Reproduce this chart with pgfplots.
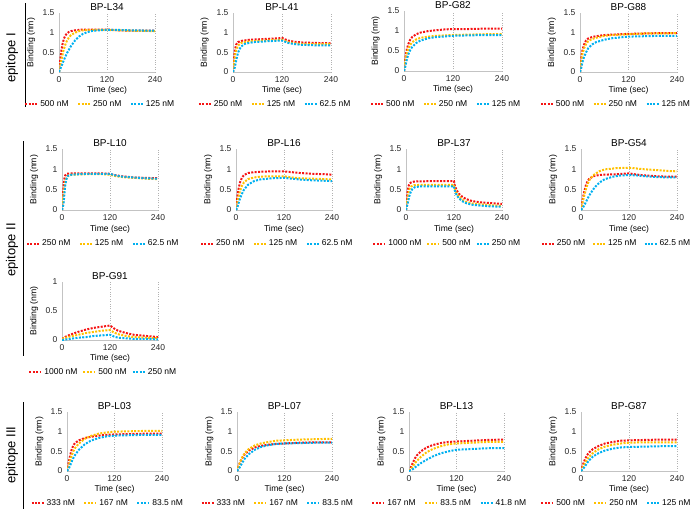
\documentclass[border=0pt]{standalone}
\usepackage{fontspec}
\setmainfont{Liberation Sans}
\usepackage{pgfplots}
\pgfplotsset{compat=1.18}
\definecolor{cred}{RGB}{245,20,20}
\definecolor{corg}{RGB}{255,192,0}
\definecolor{cblu}{RGB}{0,176,240}
\definecolor{axgray}{RGB}{195,195,195}
\pgfplotsset{
  sr/.style={color=cred, line width=2pt, dash pattern=on 2pt off 1.4pt, mark=none},
  so/.style={color=corg, line width=2pt, dash pattern=on 2pt off 1.4pt, mark=none},
  sb/.style={color=cblu, line width=2pt, dash pattern=on 2pt off 1.4pt, mark=none},
  every axis title/.style={at={(axis description cs:0.5,1)}, anchor=base, yshift=2.5pt, font=\fontsize{10}{11}\selectfont},
  panel/.style={
    scale only axis, width=96pt, height=59pt, anchor=south west,
    xmin=0, xmax=240, ymin=0, ymax=1.5,
    xtick={0,120,240}, ytick={0,0.5,1,1.5},
    axis x line*=bottom, axis y line*=left,
    axis line style={draw=axgray, line width=0.6pt, -},
    major tick length=0pt,
    xmajorgrids, grid style={black!30, dotted, line width=0.6pt},
    /pgf/number format/assume math mode=true,
    ticklabel style={font=\fontsize{8.5}{9}\selectfont, text=black!85},
    xticklabel style={yshift=-1pt},
    yticklabel style={xshift=-1pt},
    xlabel={Time (sec)}, ylabel={Binding (nm)},
    every axis x label/.style={at={(axis description cs:0.5,-0.31)}, anchor=center, font=\fontsize{8.5}{9}\selectfont},
    every axis y label/.style={at={(axis description cs:-0.29,0.5)}, anchor=center, rotate=90, font=\fontsize{8.7}{9}\selectfont},
    legend style={at={(axis description cs:0.43,-0.55)}, anchor=center, draw=none, fill=none,
      legend columns=3, font=\fontsize{8.5}{9}\selectfont, inner sep=0pt,
      /tikz/every even column/.append style={column sep=6.5pt}},
    legend image code/.code={\draw[#1] (0pt,0pt) -- (12pt,0pt);},
  },
  rightcol/.style={legend style={at={(axis description cs:0.37,-0.55)}}},
}
\begin{document}
\begin{tikzpicture}
\useasboundingbox (0,0) rectangle (696pt,-509pt);
% epitope labels
\draw[line width=1pt] (25pt,-3pt) -- (25pt,-107pt);
\node[rotate=90, font=\fontsize{13}{14}\selectfont] at (12pt,-58pt) {epitope I};
\draw[line width=1pt] (23pt,-141pt) -- (23pt,-356pt);
\node[rotate=90, font=\fontsize{13}{14}\selectfont] at (12pt,-250pt) {epitope II};
\draw[line width=1pt] (23pt,-402pt) -- (23pt,-509pt);
\node[rotate=90, font=\fontsize{13}{14}\selectfont] at (12pt,-455pt) {epitope III};

% ---------------- Row 1 ----------------
\begin{axis}[panel, at={(59pt,-72pt)}, title={BP-L34}]
\addplot[sr] coordinates {(0,0) (3,0.3) (6,0.55) (9,0.72) (12,0.84) (16,0.93) (20,0.98) (25,1.02) (30,1.04) (40,1.06) (60,1.08) (90,1.08) (120,1.08) (150,1.06) (180,1.05) (210,1.05) (240,1.05)};
\addplot[so] coordinates {(0,0) (4,0.2) (8,0.4) (12,0.58) (16,0.7) (20,0.8) (25,0.88) (30,0.94) (40,1.0) (50,1.04) (60,1.06) (80,1.07) (120,1.07) (150,1.06) (180,1.05) (240,1.04)};
\addplot[sb] coordinates {(0,0) (5,0.12) (10,0.25) (15,0.37) (20,0.48) (30,0.66) (40,0.8) (50,0.9) (60,0.97) (70,1.01) (80,1.04) (100,1.06) (120,1.07) (150,1.07) (180,1.06) (240,1.05)};
\legend{500 nM, 250 nM, 125 nM}
\end{axis}

\begin{axis}[panel, at={(233pt,-72pt)}, width=98pt, title={BP-L41}]
\addplot[sr] coordinates {(0,0) (2,0.3) (4,0.5) (6,0.62) (8,0.7) (12,0.76) (20,0.79) (40,0.82) (80,0.84) (115,0.86) (120,0.87) (125,0.84) (135,0.8) (150,0.77) (170,0.75) (200,0.74) (240,0.73)};
\addplot[so] coordinates {(0,0) (3,0.25) (6,0.48) (9,0.6) (13,0.68) (20,0.74) (40,0.78) (80,0.8) (120,0.82) (125,0.8) (135,0.76) (150,0.73) (170,0.71) (200,0.71) (240,0.71)};
\addplot[sb] coordinates {(0,0) (4,0.1) (8,0.3) (12,0.48) (16,0.58) (20,0.65) (30,0.72) (50,0.76) (80,0.78) (120,0.8) (125,0.78) (135,0.74) (150,0.71) (170,0.69) (200,0.68) (240,0.68)};
\legend{250 nM, 125 nM, 62.5 nM}
\end{axis}

\begin{axis}[panel, at={(404pt,-71pt)}, width=98pt, height=60pt, title={BP-G82}]
\addplot[sr] coordinates {(0,0) (3,0.3) (6,0.5) (10,0.66) (15,0.78) (20,0.85) (30,0.92) (40,0.96) (60,1.0) (80,1.02) (100,1.04) (120,1.05) (160,1.05) (200,1.06) (240,1.06)};
\addplot[so] coordinates {(0,0) (3,0.22) (6,0.4) (10,0.54) (15,0.65) (20,0.72) (30,0.79) (40,0.83) (60,0.86) (80,0.88) (120,0.9) (160,0.91) (200,0.92) (240,0.92)};
\addplot[sb] coordinates {(0,0) (3,0.1) (6,0.25) (10,0.4) (15,0.52) (20,0.6) (30,0.7) (40,0.76) (60,0.82) (80,0.85) (120,0.88) (160,0.89) (200,0.9) (240,0.9)};
\legend{500 nM, 250 nM, 125 nM}
\end{axis}

\begin{axis}[panel, rightcol, at={(580pt,-72pt)}, width=97pt, title={BP-G88}]
\addplot[sr] coordinates {(0,0) (3,0.35) (6,0.55) (10,0.7) (15,0.8) (20,0.85) (30,0.89) (40,0.91) (60,0.94) (80,0.95) (100,0.96) (120,0.97) (160,0.98) (200,0.99) (240,0.99)};
\addplot[so] coordinates {(0,0) (3,0.25) (6,0.45) (10,0.6) (15,0.71) (20,0.78) (30,0.84) (40,0.87) (60,0.92) (80,0.94) (100,0.95) (120,0.96) (160,0.98) (200,0.98) (240,0.99)};
\addplot[sb] coordinates {(0,0) (3,0.1) (6,0.25) (10,0.38) (15,0.5) (20,0.6) (30,0.7) (40,0.76) (60,0.82) (80,0.86) (100,0.88) (120,0.9) (160,0.91) (200,0.92) (240,0.92)};
\legend{500 nM, 250 nM, 125 nM}
\end{axis}

% ---------------- Row 2 ----------------
\begin{axis}[panel, at={(62pt,-210pt)}, height=61pt, title={BP-L10}]
\addplot[sr] coordinates {(0,0) (2,0.35) (4,0.6) (6,0.78) (8,0.85) (12,0.89) (20,0.9) (60,0.9) (100,0.9) (120,0.89) (130,0.86) (150,0.83) (180,0.8) (210,0.79) (240,0.78)};
\addplot[so] coordinates {(0,0) (3,0.3) (6,0.55) (9,0.72) (12,0.8) (16,0.85) (25,0.87) (60,0.88) (100,0.88) (120,0.87) (130,0.84) (150,0.81) (180,0.79) (210,0.77) (240,0.76)};
\addplot[sb] coordinates {(0,0) (4,0.15) (6,0.4) (8,0.6) (11,0.76) (15,0.84) (25,0.87) (60,0.89) (100,0.89) (120,0.89) (130,0.86) (150,0.82) (180,0.8) (210,0.78) (240,0.77)};
\legend{250 nM, 125 nM, 62.5 nM}
\end{axis}

\begin{axis}[panel, at={(236pt,-210pt)}, height=61pt, title={BP-L16}]
\addplot[sr] coordinates {(0,0) (3,0.3) (6,0.5) (10,0.68) (15,0.8) (20,0.86) (30,0.91) (45,0.93) (60,0.94) (90,0.95) (120,0.95) (140,0.93) (160,0.91) (190,0.89) (220,0.88) (240,0.87)};
\addplot[so] coordinates {(0,0) (3,0.15) (6,0.3) (10,0.47) (15,0.6) (20,0.68) (30,0.76) (45,0.8) (60,0.82) (90,0.83) (120,0.83) (140,0.8) (160,0.78) (190,0.77) (220,0.76) (240,0.75)};
\addplot[sb] coordinates {(0,0) (3,0.05) (6,0.15) (10,0.28) (15,0.4) (20,0.5) (30,0.62) (45,0.71) (60,0.75) (90,0.78) (120,0.79) (140,0.77) (160,0.75) (190,0.73) (220,0.72) (240,0.71)};
\legend{250 nM, 125 nM, 62.5 nM}
\end{axis}

\begin{axis}[panel, at={(406pt,-210pt)}, height=61pt, title={BP-L37}, legend style={/tikz/every even column/.append style={column sep=3pt}}]
\addplot[sr] coordinates {(0,0) (2,0.25) (4,0.45) (6,0.58) (9,0.65) (13,0.68) (20,0.7) (60,0.71) (120,0.71) (122,0.6) (126,0.5) (132,0.4) (140,0.33) (150,0.27) (165,0.22) (185,0.19) (210,0.17) (240,0.15)};
\addplot[so] coordinates {(0,0) (3,0.2) (6,0.4) (9,0.52) (13,0.58) (20,0.61) (40,0.62) (120,0.62) (122,0.52) (126,0.42) (132,0.33) (140,0.26) (150,0.2) (165,0.16) (185,0.14) (210,0.12) (240,0.1)};
\addplot[sb] coordinates {(0,0) (4,0.15) (8,0.33) (12,0.45) (16,0.52) (22,0.56) (35,0.58) (120,0.58) (122,0.48) (126,0.38) (132,0.29) (140,0.22) (150,0.17) (165,0.13) (185,0.11) (210,0.09) (240,0.08)};
\legend{1000 nM, 500 nM, 250 nM}
\end{axis}

\begin{axis}[panel, rightcol, at={(581pt,-210pt)}, height=61pt, title={BP-G54}, legend style={/tikz/every even column/.append style={column sep=5pt}}]
\addplot[sr] coordinates {(0,0) (4,0.25) (8,0.45) (12,0.6) (16,0.7) (20,0.76) (30,0.83) (45,0.86) (60,0.87) (90,0.88) (120,0.9) (140,0.87) (160,0.85) (190,0.83) (220,0.82) (240,0.82)};
\addplot[so] coordinates {(0,0) (4,0.18) (8,0.35) (12,0.5) (16,0.62) (20,0.72) (30,0.85) (45,0.95) (60,1.0) (90,1.03) (120,1.04) (140,1.02) (160,1.0) (190,0.98) (220,0.96) (240,0.95)};
\addplot[sb] coordinates {(0,0) (5,0.06) (10,0.15) (15,0.25) (20,0.35) (30,0.5) (40,0.62) (50,0.7) (60,0.76) (80,0.82) (100,0.85) (120,0.86) (140,0.85) (160,0.83) (190,0.81) (220,0.8) (240,0.8)};
\legend{250 nM, 125 nM, 62.5 nM}
\end{axis}

% ---------------- Row 3 ----------------
\begin{axis}[panel, at={(62pt,-340pt)}, height=58pt, ymax=1, ytick={0,0.5,1}, title={BP-G91}, legend style={/tikz/every even column/.append style={column sep=3pt}}]
\addplot[sr] coordinates {(0,0.02) (10,0.06) (20,0.09) (40,0.14) (60,0.18) (80,0.21) (100,0.23) (120,0.25) (130,0.2) (140,0.16) (160,0.12) (180,0.09) (210,0.07) (240,0.05)};
\addplot[so] coordinates {(0,0.02) (10,0.04) (20,0.06) (40,0.09) (60,0.12) (80,0.14) (100,0.16) (120,0.17) (130,0.13) (140,0.1) (160,0.07) (180,0.05) (210,0.04) (240,0.03)};
\addplot[sb] coordinates {(0,0) (10,0.01) (20,0.02) (40,0.04) (60,0.05) (80,0.07) (100,0.08) (120,0.09) (130,0.06) (140,0.04) (160,0.03) (180,0.02) (210,0.02) (240,0.01)};
\legend{1000 nM, 500 nM, 250 nM}
\end{axis}

% ---------------- Row 4 ----------------
\begin{axis}[panel, at={(67pt,-471pt)}, width=95pt, title={BP-L03}]
\addplot[sr] coordinates {(0,0) (4,0.2) (8,0.4) (12,0.55) (16,0.65) (20,0.71) (30,0.78) (45,0.84) (60,0.87) (80,0.9) (100,0.92) (120,0.93) (160,0.94) (200,0.95) (240,0.95)};
\addplot[so] coordinates {(0,0) (4,0.12) (8,0.27) (12,0.4) (16,0.5) (20,0.58) (30,0.7) (45,0.82) (60,0.89) (80,0.95) (100,0.98) (120,1.0) (160,1.01) (200,1.02) (240,1.02)};
\addplot[sb] coordinates {(0,0) (4,0.05) (8,0.14) (12,0.24) (16,0.33) (20,0.4) (30,0.54) (45,0.68) (60,0.77) (80,0.84) (100,0.88) (120,0.9) (160,0.91) (200,0.92) (240,0.92)};
\legend{333 nM, 167 nM, 83.5 nM}
\end{axis}

\begin{axis}[panel, at={(237pt,-471pt)}, width=95pt, title={BP-L07}]
\addplot[sr] coordinates {(0,0) (5,0.15) (10,0.27) (15,0.36) (20,0.43) (30,0.52) (45,0.6) (60,0.64) (80,0.67) (100,0.69) (120,0.7) (160,0.72) (200,0.73) (240,0.73)};
\addplot[so] coordinates {(0,0) (5,0.15) (10,0.28) (15,0.38) (20,0.46) (30,0.56) (45,0.65) (60,0.7) (80,0.74) (100,0.77) (120,0.78) (160,0.8) (200,0.81) (240,0.82)};
\addplot[sb] coordinates {(0,0) (5,0.06) (10,0.15) (15,0.24) (20,0.32) (30,0.43) (45,0.54) (60,0.61) (80,0.66) (100,0.69) (120,0.7) (160,0.71) (200,0.72) (240,0.72)};
\legend{333 nM, 167 nM, 83.5 nM}
\end{axis}

\begin{axis}[panel, at={(409pt,-471pt)}, width=95pt, title={BP-L13}]
\addplot[sr] coordinates {(0,0) (5,0.1) (10,0.22) (15,0.32) (20,0.4) (30,0.5) (45,0.6) (60,0.66) (80,0.71) (100,0.74) (120,0.75) (160,0.77) (200,0.79) (240,0.8)};
\addplot[so] coordinates {(0,0) (5,0.05) (10,0.12) (15,0.2) (20,0.26) (30,0.36) (45,0.48) (60,0.56) (80,0.63) (100,0.68) (120,0.7) (160,0.72) (200,0.74) (240,0.74)};
\addplot[sb] coordinates {(0,0) (5,0.02) (10,0.05) (15,0.09) (20,0.13) (30,0.2) (45,0.29) (60,0.37) (80,0.45) (100,0.5) (120,0.54) (160,0.56) (200,0.58) (240,0.58)};
\legend{167 nM, 83.5 nM, 41.8 nM}
\end{axis}

\begin{axis}[panel, rightcol, at={(581pt,-471pt)}, title={BP-G87}]
\addplot[sr] coordinates {(0,0) (5,0.17) (10,0.3) (15,0.4) (20,0.47) (30,0.56) (45,0.64) (60,0.7) (80,0.74) (100,0.77) (120,0.78) (160,0.79) (200,0.8) (240,0.8)};
\addplot[so] coordinates {(0,0) (5,0.1) (10,0.2) (15,0.29) (20,0.36) (30,0.46) (45,0.56) (60,0.62) (80,0.67) (100,0.7) (120,0.72) (160,0.73) (200,0.73) (240,0.73)};
\addplot[sb] coordinates {(0,0) (5,0.05) (10,0.12) (15,0.2) (20,0.27) (30,0.37) (45,0.46) (60,0.52) (80,0.57) (100,0.6) (120,0.61) (160,0.62) (200,0.63) (240,0.63)};
\legend{500 nM, 250 nM, 125 nM}
\end{axis}
\end{tikzpicture}
\end{document}
